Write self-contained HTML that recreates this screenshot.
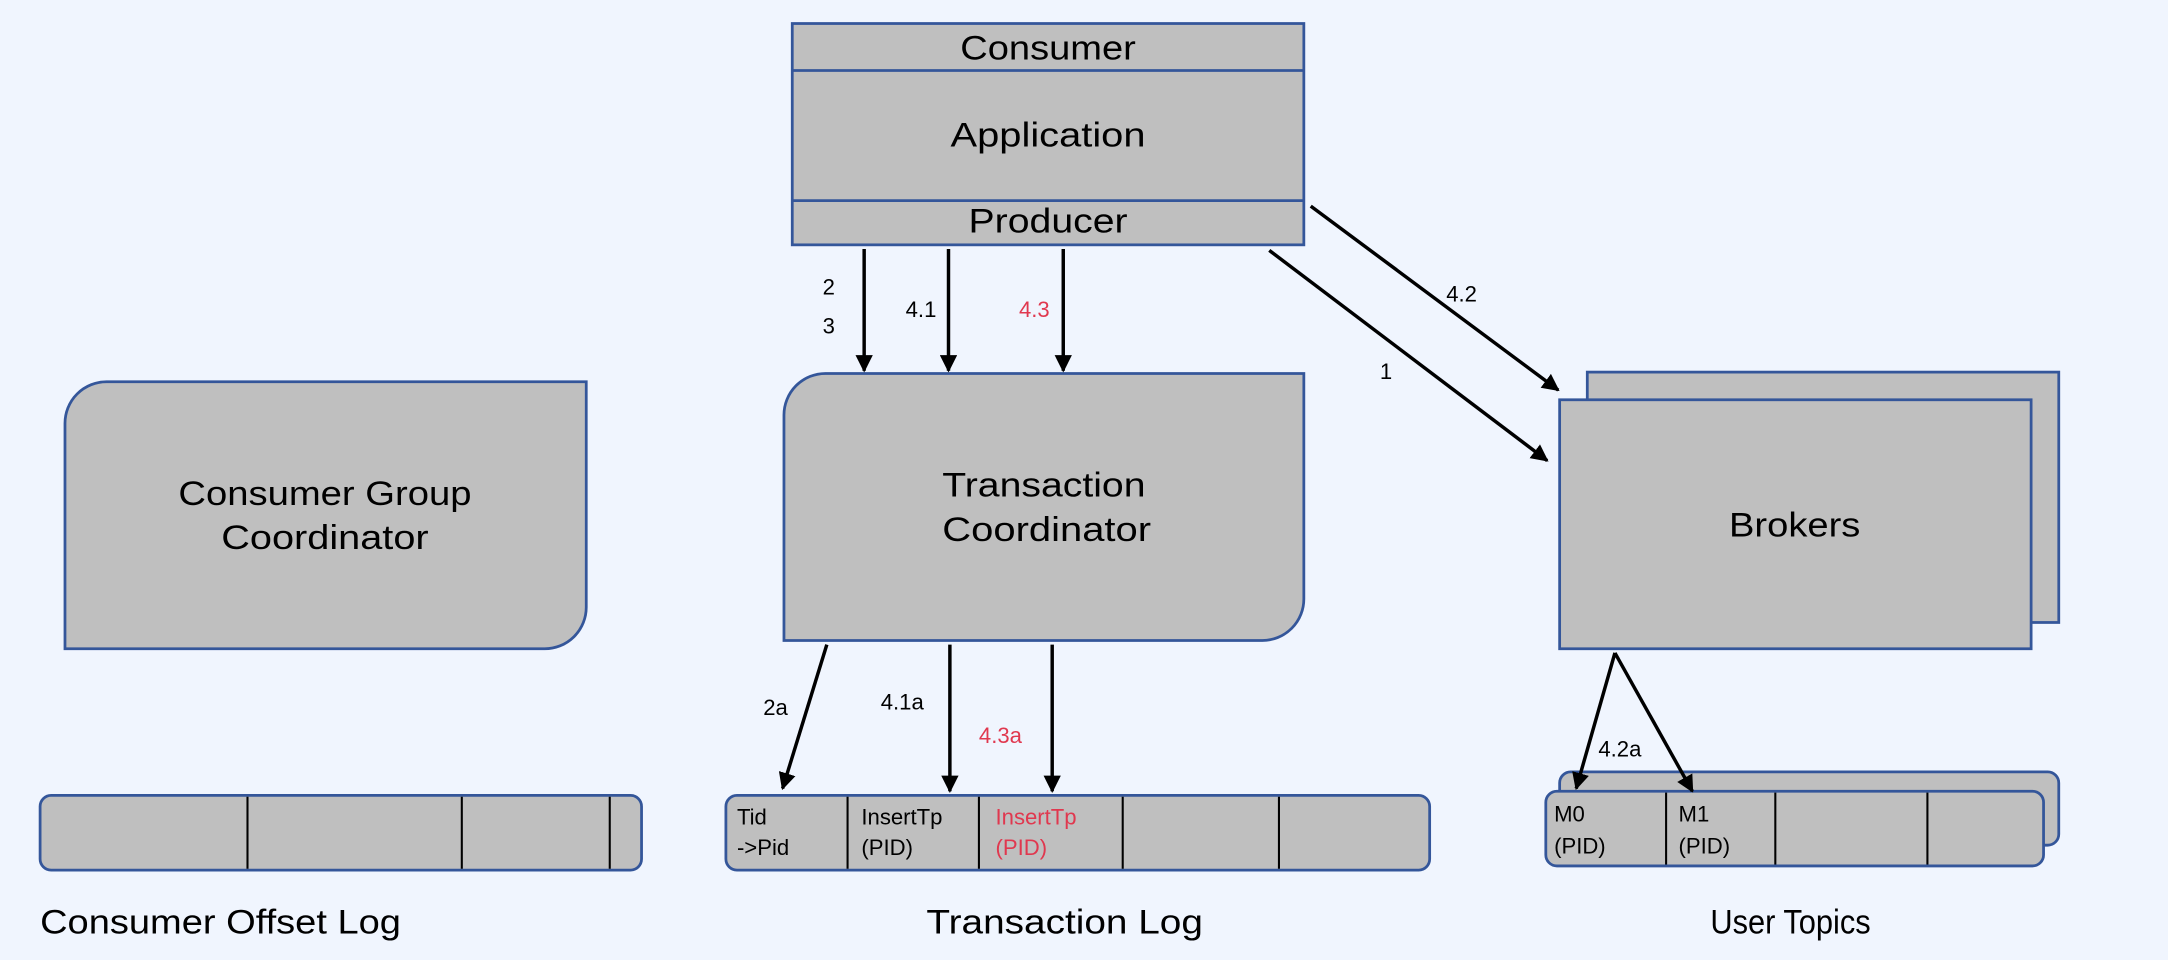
<!DOCTYPE html>
<html><head><meta charset="utf-8"><style>
html,body{margin:0;padding:0;background:#f0f5fe;}
svg{display:block}
text{font-family:"Liberation Sans",sans-serif;}
</style></head><body>
<svg width="2168" height="960" viewBox="0 0 1568 694" preserveAspectRatio="none" xmlns="http://www.w3.org/2000/svg">
<defs>
<marker id="a" viewBox="0 0 10 10" refX="9" refY="5" markerWidth="5" markerHeight="5" orient="auto"><path d="M0,0 L10,5 L0,10 z" fill="#000"/></marker>
</defs>
<rect width="1568" height="694" fill="#f0f5fe"/>
<g fill="#bfbfbf" stroke="#34569a" stroke-width="2">
<rect x="573" y="17" width="370" height="160"/>
<line x1="573" y1="51" x2="943" y2="51"/>
<line x1="573" y1="145" x2="943" y2="145"/>
<path d="M597,270 H943 V433 A30,30 0 0 1 913,463 H567 V300 A30,30 0 0 1 597,270 Z"/>
<path d="M77,276 H424 V439 A30,30 0 0 1 394,469 H47 V306 A30,30 0 0 1 77,276 Z"/>
<rect x="1148" y="269" width="341" height="181"/>
<rect x="1128" y="289" width="341" height="180"/>
<rect x="29" y="575" width="435" height="54" rx="8"/>
<rect x="525" y="575" width="509" height="54" rx="8"/>
<rect x="1128" y="558" width="361" height="53" rx="8"/>
<rect x="1118" y="572" width="360" height="54" rx="8"/>
</g>
<g stroke="#000" stroke-width="1.5">
<line x1="179" y1="576" x2="179" y2="628"/><line x1="334" y1="576" x2="334" y2="628"/><line x1="441" y1="576" x2="441" y2="628"/>
<line x1="613" y1="576" x2="613" y2="628"/><line x1="708" y1="576" x2="708" y2="628"/><line x1="812" y1="576" x2="812" y2="628"/><line x1="925" y1="576" x2="925" y2="628"/>
<line x1="1205" y1="573" x2="1205" y2="625"/><line x1="1284" y1="573" x2="1284" y2="625"/><line x1="1394" y1="573" x2="1394" y2="625"/>
</g>
<g stroke="#000" stroke-width="2.5" marker-end="url(#a)">
<line x1="625" y1="180" x2="625" y2="268"/>
<line x1="686" y1="180" x2="686" y2="268"/>
<line x1="769" y1="180" x2="769" y2="268"/>
<line x1="948" y1="149" x2="1127" y2="282"/>
<line x1="918" y1="181" x2="1119" y2="333"/>
<line x1="598" y1="466" x2="566" y2="570"/>
<line x1="687" y1="466" x2="687" y2="572"/>
<line x1="761" y1="466" x2="761" y2="572"/>
<line x1="1168" y1="472" x2="1140" y2="570"/>
<line x1="1168" y1="472" x2="1224" y2="572"/>
</g>
<g font-size="25" text-anchor="middle" fill="#000" lengthAdjust="spacingAndGlyphs">
<text x="758" y="43" textLength="127" lengthAdjust="spacingAndGlyphs">Consumer</text>
<text x="758" y="106" textLength="141" lengthAdjust="spacingAndGlyphs">Application</text>
<text x="758" y="168" textLength="115" lengthAdjust="spacingAndGlyphs">Producer</text>
<text x="755" y="359" textLength="147" lengthAdjust="spacingAndGlyphs">Transaction</text>
<text x="757" y="391" textLength="151" lengthAdjust="spacingAndGlyphs">Coordinator</text>
<text x="235" y="365" textLength="212" lengthAdjust="spacingAndGlyphs">Consumer Group</text>
<text x="235" y="397" textLength="150" lengthAdjust="spacingAndGlyphs">Coordinator</text>
<text x="1298" y="388" textLength="95" lengthAdjust="spacingAndGlyphs">Brokers</text>
</g>
<g font-size="16" fill="#000">
<text x="595" y="213">2</text>
<text x="595" y="241">3</text>
<text x="655" y="229">4.1</text>
<text x="737" y="229" fill="#e0384f">4.3</text>
<text x="1046" y="218">4.2</text>
<text x="998" y="274">1</text>
<text x="552" y="517">2a</text>
<text x="637" y="513">4.1a</text>
<text x="708" y="537" fill="#e0384f">4.3a</text>
<text x="1156" y="547">4.2a</text>
<text x="533" y="596">Tid</text><text x="533" y="618">-&gt;Pid</text>
<text x="623" y="596">InsertTp</text><text x="623" y="618">(PID)</text>
<text x="720" y="596" fill="#e0384f">InsertTp</text><text x="720" y="618" fill="#e0384f">(PID)</text>
<text x="1124" y="594">M0</text><text x="1124" y="617">(PID)</text>
<text x="1214" y="594">M1</text><text x="1214" y="617">(PID)</text>
</g>
<g font-size="25" fill="#000">
<text x="29" y="675" textLength="261" lengthAdjust="spacingAndGlyphs">Consumer Offset Log</text>
<text x="670" y="675" textLength="200" lengthAdjust="spacingAndGlyphs">Transaction Log</text>
<text x="1237" y="675" textLength="116" lengthAdjust="spacingAndGlyphs">User Topics</text>
</g>
</svg>
</body></html>
